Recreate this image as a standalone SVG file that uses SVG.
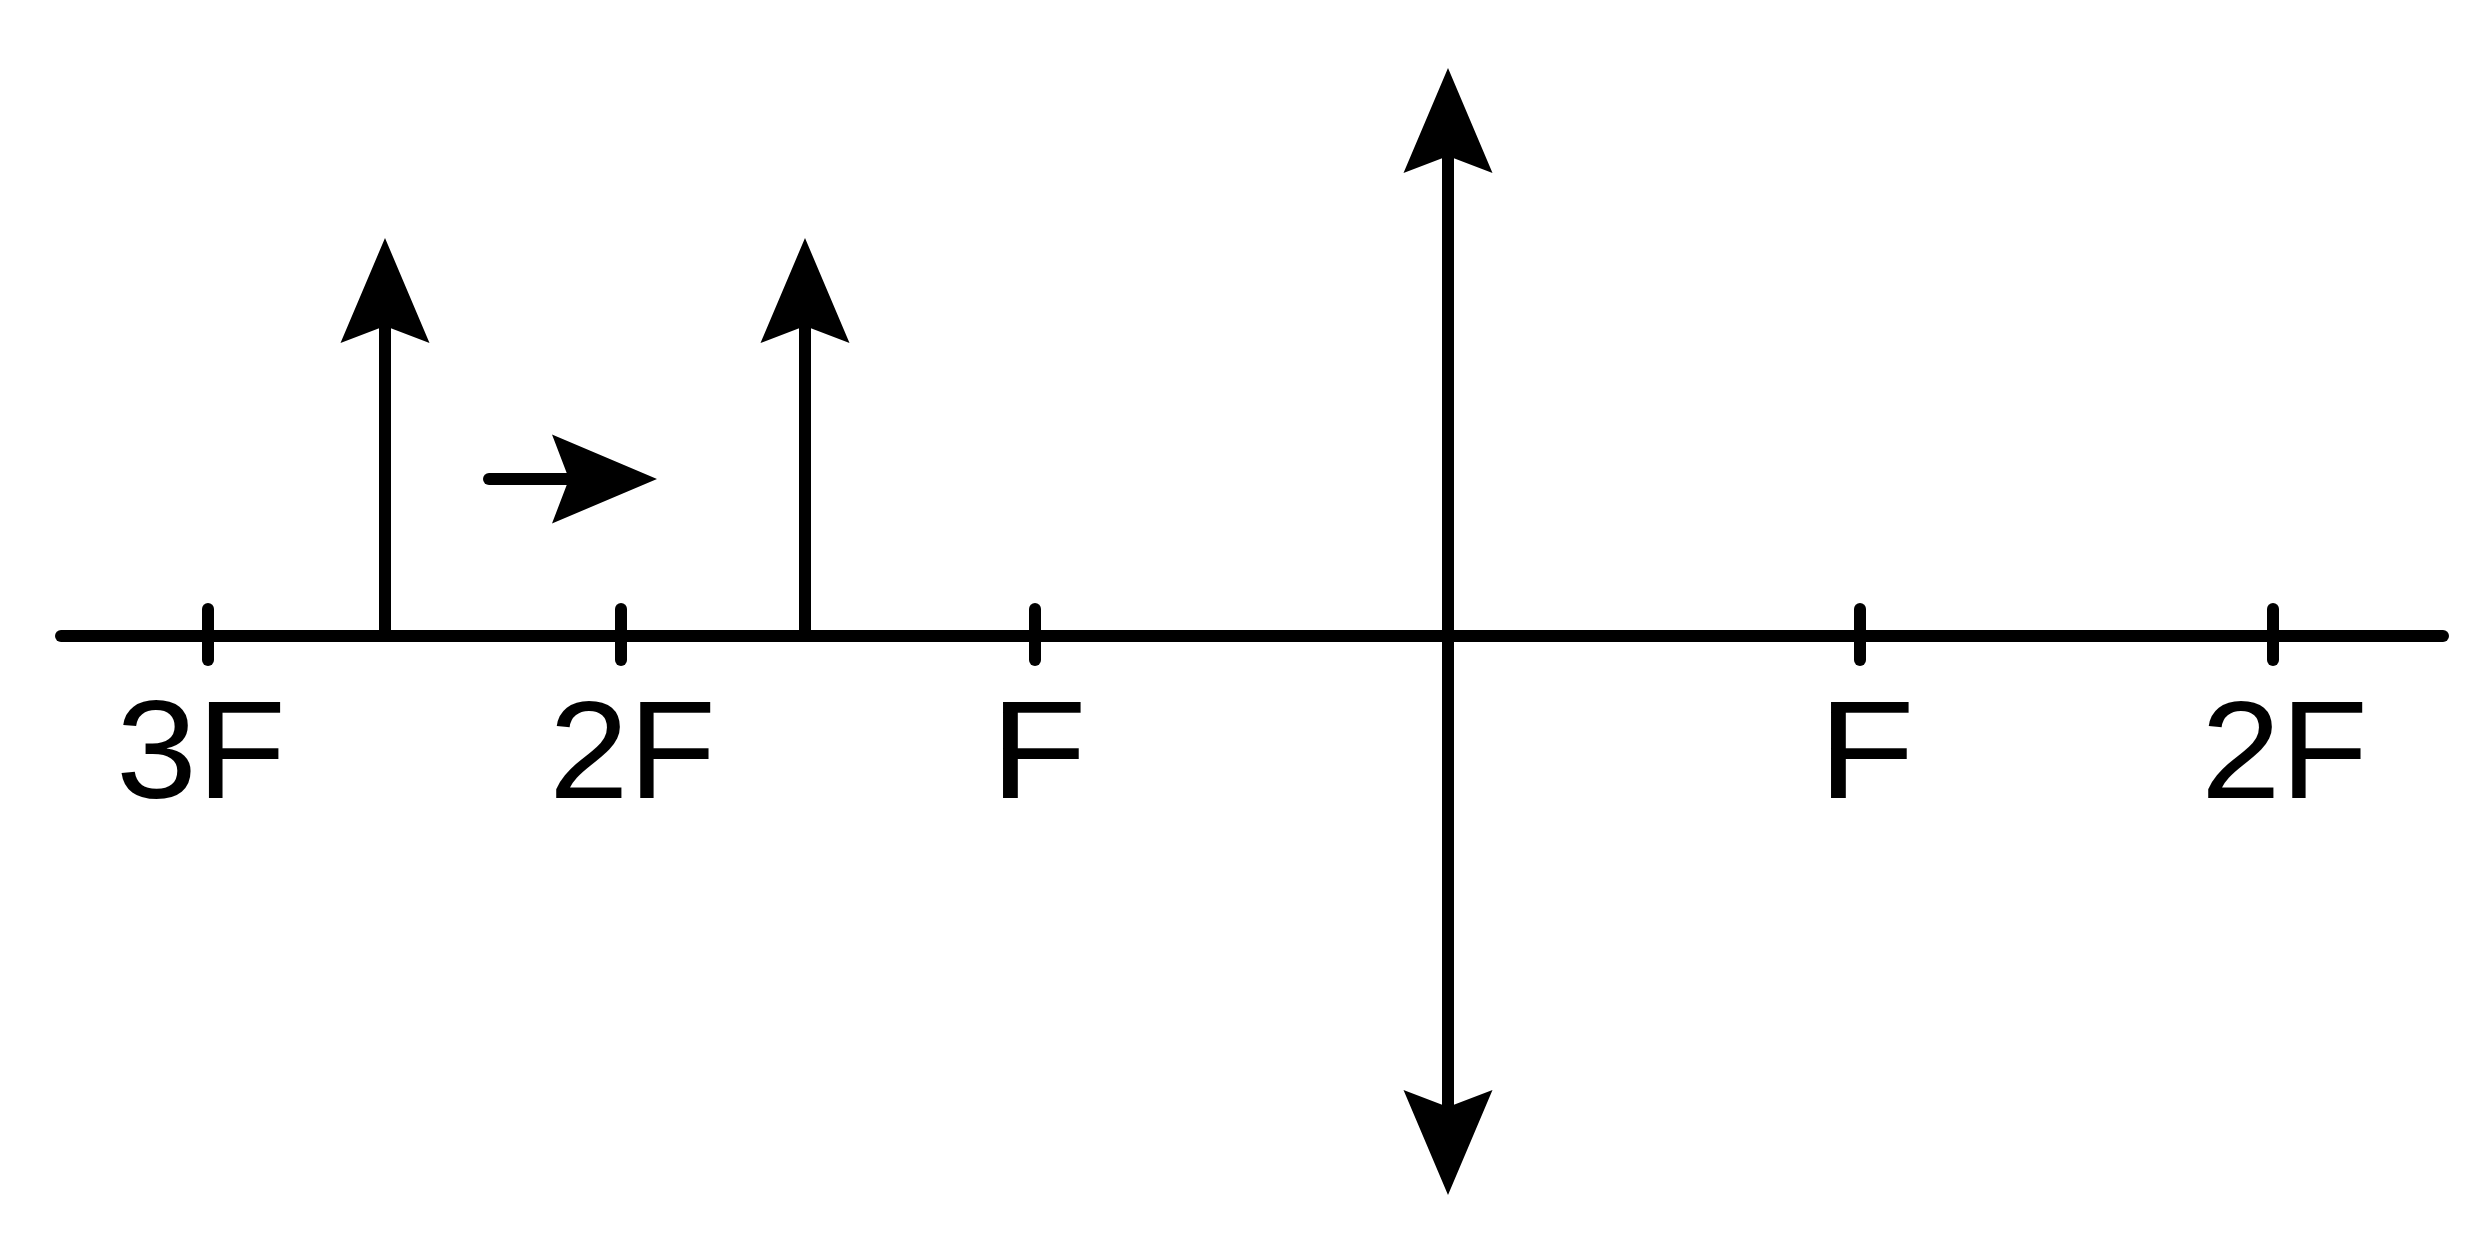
<svg xmlns="http://www.w3.org/2000/svg" width="2492" height="1247" viewBox="0 0 2492 1247">
  <style>
    .ln { stroke: #000; stroke-width: 12; fill: none; stroke-linecap: round; }
    .lbl { font-family: "Liberation Sans", Arial, sans-serif; font-size: 140px; fill: #000; }
  </style>
  <defs>
    <marker id="head" markerUnits="userSpaceOnUse" orient="auto-start-reverse" refX="0" refY="0" markerWidth="200" markerHeight="200" viewBox="-100 -100 200 200" overflow="visible">
      <path d="M82,0 L-23,-44.5 L-6,0 L-23,44.5 Z" fill="#000"/>
    </marker>
  </defs>
  <rect x="0" y="0" width="2492" height="1247" fill="#fff"/>
  <g id="connectors">
    <line id="axis" class="ln" x1="61" y1="636" x2="2443" y2="636"/>
    <line id="lens" class="ln" x1="1448" y1="1113" x2="1448" y2="150" stroke-linecap="butt" marker-start="url(#head)" marker-end="url(#head)"/>
    <line id="object1" class="ln" x1="385" y1="636" x2="385" y2="320" stroke-linecap="butt" marker-end="url(#head)"/>
    <line id="object2" class="ln" x1="805" y1="636" x2="805" y2="320" stroke-linecap="butt" marker-end="url(#head)"/>
    <line id="motion" class="ln" x1="489" y1="479" x2="575" y2="479" marker-end="url(#head)"/>
  </g>
  <g id="tick-3F">
    <line class="ln" x1="208" y1="609" x2="208" y2="660"/>
    <text class="lbl" x="116" y="798" textLength="170" lengthAdjust="spacingAndGlyphs">3F</text>
  </g>
  <g id="tick-2F-left">
    <line class="ln" x1="621" y1="609" x2="621" y2="660"/>
    <text class="lbl" x="549" y="798" textLength="167" lengthAdjust="spacingAndGlyphs">2F</text>
  </g>
  <g id="tick-F-left">
    <line class="ln" x1="1035" y1="609" x2="1035" y2="660"/>
    <text class="lbl" x="990" y="798" textLength="97" lengthAdjust="spacingAndGlyphs">F</text>
  </g>
  <g id="tick-F-right">
    <line class="ln" x1="1860" y1="609" x2="1860" y2="660"/>
    <text class="lbl" x="1818" y="798" textLength="97" lengthAdjust="spacingAndGlyphs">F</text>
  </g>
  <g id="tick-2F-right">
    <line class="ln" x1="2273" y1="609" x2="2273" y2="660"/>
    <text class="lbl" x="2201" y="798" textLength="167" lengthAdjust="spacingAndGlyphs">2F</text>
  </g>
</svg>
